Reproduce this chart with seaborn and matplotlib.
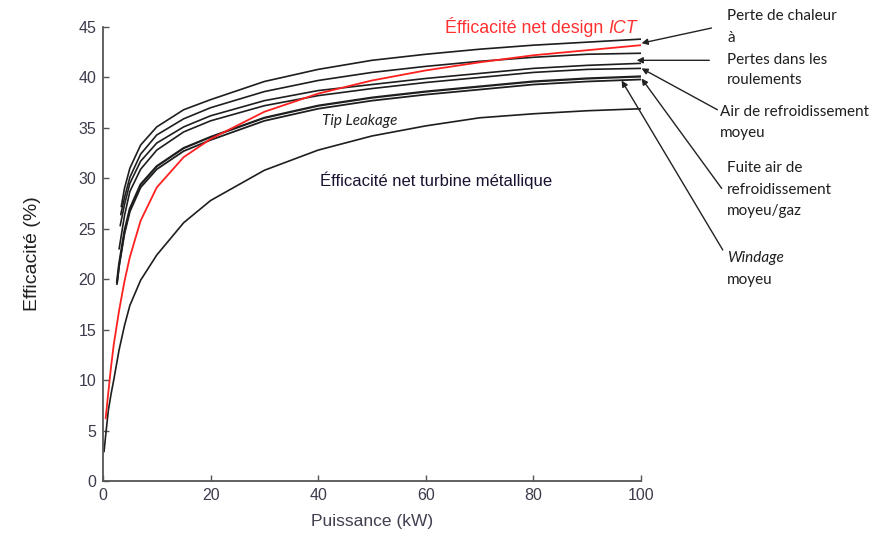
import matplotlib
matplotlib.use("Agg")
import matplotlib.pyplot as plt
import seaborn as sns
import pandas as pd

# Efficiency curves (%), versus power output (kW)
x_chaleur = [3.4, 4, 5, 7, 10, 15, 20, 30, 40, 50, 60, 70, 80, 90, 100]
y_chaleur = [27.2, 29.0, 31.0, 33.3, 35.1, 36.8, 37.8, 39.6, 40.8, 41.7, 42.3, 42.8, 43.2, 43.5, 43.8]

x_roulements = [3.3, 4, 5, 7, 10, 15, 20, 30, 40, 50, 60, 70, 80, 90, 100]
y_roulements = [26.4, 28.1, 30.1, 32.4, 34.3, 35.9, 37.0, 38.6, 39.7, 40.5, 41.1, 41.6, 42.0, 42.3, 42.4]

x_air = [3.2, 4, 5, 7, 10, 15, 20, 30, 40, 50, 60, 70, 80, 90, 100]
y_air = [25.3, 27.4, 29.5, 31.7, 33.5, 35.1, 36.2, 37.7, 38.7, 39.3, 39.9, 40.4, 40.9, 41.2, 41.4]

x_fuite = [3.0, 4, 5, 7, 10, 15, 20, 30, 40, 50, 60, 70, 80, 90, 100]
y_fuite = [23.0, 26.3, 28.7, 30.9, 32.8, 34.6, 35.7, 37.2, 38.2, 38.9, 39.5, 40.0, 40.5, 40.8, 40.9]

x_windage = [2.6, 3, 4, 5, 7, 10, 15, 20, 30, 40, 50, 60, 70, 80, 90, 100]
y_windage = [19.7, 21.5, 24.8, 27.0, 29.4, 31.2, 33.0, 34.1, 36.0, 37.2, 38.0, 38.6, 39.1, 39.6, 39.9, 40.1]

x_tip = [2.6, 3, 4, 5, 7, 10, 15, 20, 30, 40, 50, 60, 70, 80, 90, 100]
y_tip = [19.5, 21.3, 24.5, 26.7, 29.1, 30.9, 32.7, 33.8, 35.7, 36.9, 37.7, 38.3, 38.8, 39.3, 39.6, 39.8]

x_metal = [0.2, 0.5, 1, 1.5, 2, 3, 4, 5, 7, 10, 15, 20, 30, 40, 50, 60, 70, 80, 90, 100]
y_metal = [2.9, 4.5, 7.0, 8.6, 10.0, 13.0, 15.4, 17.4, 19.9, 22.4, 25.6, 27.8, 30.8, 32.8, 34.2, 35.2, 36.0, 36.4, 36.7, 36.9]

x_ict = [0.5, 1, 1.5, 2, 3, 4, 5, 7, 10, 15, 20, 30, 40, 50, 60, 70, 80, 90, 100]
y_ict = [6.2, 8.8, 11.3, 13.5, 16.9, 19.8, 22.2, 25.8, 29.1, 32.1, 33.9, 36.6, 38.4, 39.7, 40.7, 41.5, 42.2, 42.7, 43.2]

x_ticks = [0, 20, 40, 60, 80, 100]
y_ticks = [0, 5, 10, 15, 20, 25, 30, 35, 40, 45]

sns.set_theme(style="white")
plt.rcParams["font.family"] = ["Liberation Sans", "DejaVu Sans"]

fig = plt.figure(figsize=(8.74, 5.34), dpi=100)
ax = fig.add_axes([0.1178, 0.0993, 0.6156, 0.8501])

black = "#1e1e1e"
curves = [
    (x_chaleur, y_chaleur, black, 1.2),
    (x_roulements, y_roulements, black, 1.2),
    (x_air, y_air, black, 1.2),
    (x_fuite, y_fuite, black, 1.2),
    (x_metal, y_metal, black, 1.2),
    (x_tip, y_tip, black, 1.3),
    (x_windage, y_windage, black, 1.6),
    (x_ict, y_ict, "#ff2020", 1.3),
]
for xs, ys, col, lw in curves:
    df = pd.DataFrame({"P": xs, "eff": ys})
    sns.lineplot(data=df, x="P", y="eff", ax=ax, color=col, linewidth=lw,
                 sort=False, estimator=None, legend=False)

ax.set_xlim(0, 100)
ax.set_ylim(0, 45)
ax.set_xticks(x_ticks)
ax.set_yticks(y_ticks)
tick_col = "#3c3c4c"
ax.tick_params(direction="in", length=4, width=1.0, colors="#555555",
               labelcolor=tick_col, labelsize=11.5, pad=5,
               bottom=True, left=True)
for side in ("top", "right"):
    ax.spines[side].set_visible(False)
for side in ("left", "bottom"):
    ax.spines[side].set_color("#555555")
    ax.spines[side].set_linewidth(1.3)

ax.set_xlabel("Puissance (kW)", fontsize=12.5, color="#404050", labelpad=8)
ax.set_ylabel("Efficacité (%)", fontsize=14, color="#202020", labelpad=27)

# Curve labels inside the plot
t1 = ax.text(63.6, 45.0, "Éfficacité net design ", color="#ff3030", fontsize=12.8,
             va="center", ha="left", clip_on=False)
ax.annotate("ICT", xy=(1, 0), xycoords=t1, va="bottom", ha="left",
            color="#ff3030", fontsize=12.8, style="italic")
ax.text(40.3, 29.8, "Éfficacité net turbine métallique", color="#1a1030",
        fontsize=12, va="center", ha="left")
ax.text(40.7, 35.7, "Tip Leakage", fontsize=11, style="italic", color="#222222",
        va="center", ha="left", family=["Lato", "DejaVu Sans"])

# Loss labels with arrows pointing to curve ends
side_font = dict(fontsize=11, color="#1e1e1e", va="center", ha="left",
                 family=["Lato", "DejaVu Sans"], annotation_clip=False)
arrow = dict(arrowstyle="-|>", color="#222222", lw=1.0, mutation_scale=9,
             shrinkA=0, shrinkB=0)

ax.annotate("", xy=(100.1, 43.4), xytext=(113.1, 44.9), arrowprops=arrow,
            annotation_clip=False)
ax.annotate("", xy=(99.2, 41.7), xytext=(112.7, 41.7), arrowprops=arrow,
            annotation_clip=False)
ax.annotate("", xy=(100.1, 40.9), xytext=(114.2, 36.8), arrowprops=arrow,
            annotation_clip=False)
ax.annotate("", xy=(100.1, 39.9), xytext=(115.0, 29.0), arrowprops=arrow,
            annotation_clip=False)
ax.annotate("", xy=(96.4, 39.7), xytext=(115.2, 22.9), arrowprops=arrow,
            annotation_clip=False)

side_labels = [
    (116.0, 46.1, "Perte de chaleur", "normal"),
    (116.0, 43.9, "à", "normal"),
    (116.0, 41.7, "Pertes dans les", "normal"),
    (116.0, 39.7, "roulements", "normal"),
    (114.7, 36.6, "Air de refroidissement", "normal"),
    (114.7, 34.5, "moyeu", "normal"),
    (116.0, 31.0, "Fuite air de", "normal"),
    (116.0, 28.8, "refroidissement", "normal"),
    (116.0, 26.8, "moyeu/gaz", "normal"),
    (116.0, 22.1, "Windage", "italic"),
    (116.0, 19.9, "moyeu", "normal"),
]
for x, y, s, st in side_labels:
    ax.annotate(s, xy=(x, y), xycoords="data", style=st, **side_font)

fig.savefig("out.png", dpi=100)
